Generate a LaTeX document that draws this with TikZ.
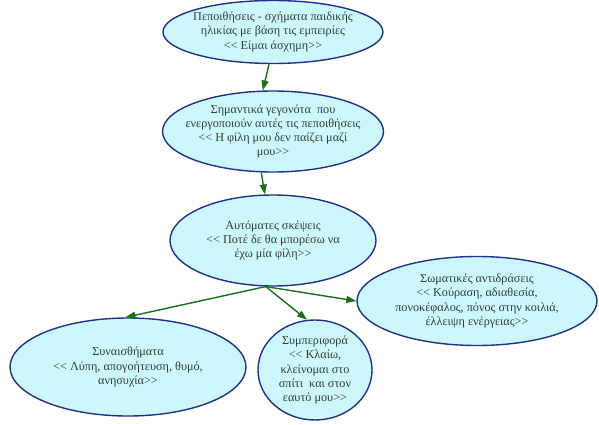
\documentclass[tikz,border=0pt]{standalone}
\usepackage{fontspec}
\setmainfont{Liberation Serif}
\usetikzlibrary{shapes.geometric,arrows.meta}
\definecolor{bfill}{HTML}{CCF8FC}
\definecolor{bdraw}{HTML}{23318A}
\definecolor{agreen}{HTML}{1E6E1E}
\definecolor{tcol}{HTML}{333D3A}
\newcommand\lsq{<\kern0pt<}
\newcommand\rsq{>\kern0pt>}
\tikzset{
  bub/.style={ellipse,draw=bdraw,fill=bfill,line width=1.4pt,inner sep=0pt},
  txt/.style={align=center,text=tcol,font=\fontsize{12.2}{14.3}\selectfont,inner sep=0pt},
  arr/.style={draw=agreen,line width=1.4pt,-{Triangle[length=10pt,width=7pt]}}
}
\begin{document}
\begin{tikzpicture}[x=1pt,y=-1pt]
\useasboundingbox (0,0) rectangle (599,425);
\node[bub,minimum width=220pt,minimum height=63pt] (e1) at (273,32) {};
\node[txt] (t1) at (e1) {Πεποιθήσεις - σχήματα παιδικής\\ηλικίας με βάση τις εμπειρίες\\\lsq{} Είμαι άσχημη\rsq};
\node[bub,minimum width=221pt,minimum height=81pt] (e2) at (273,131.5) {};
\node[txt] (t2) at (e2) {Σημαντικά γεγονότα \ που\\ενεργοποιούν αυτές τις πεποιθήσεις\\\lsq{} Η φίλη μου δεν παίζει μαζί\\μου\rsq};
\node[bub,minimum width=206pt,minimum height=91pt] (e3) at (273,240.5) {};
\node[txt] (t3) at (e3) {Αυτόματες σκέψεις\\\lsq{} Ποτέ δε θα μπορέσω να\\έχω μία φίλη\rsq};
\node[bub,minimum width=240pt,minimum height=89pt] (e4) at (477,301) {};
\node[txt] (t4) at (e4) {Σωματικές αντιδράσεις\\\lsq{} Κούραση, αδιαθεσία,\\πονοκέφαλος, πόνος στην κοιλιά,\\έλλειψη ενέργειας\rsq};
\node[bub,minimum width=236pt,minimum height=98pt] (e5) at (128,367) {};
\node[txt] (t5) at (e5) {Συναισθήματα\\\lsq{} Λύπη, απογοήτευση, θυμό,\\ανησυχία\rsq};
\node[bub,minimum width=114pt,minimum height=100pt] (e6) at (315,370) {};
\node[txt] (t6) at (e6) {Συμπεριφορά\\\lsq{} Κλαίω,\\κλείνομαι στο\\σπίτι \ και στον\\εαυτό μου\rsq};
\coordinate (b) at (e3.261);
\draw[arr] (e1.263) -- (e2.104);
\draw[arr] (e2.254) -- (e3.100);
\draw[arr] (b) -- (e4.west);
\draw[arr] (b) -- (e6.99);
\draw[arr] (b) -- (e5.93);
\end{tikzpicture}
\end{document}
